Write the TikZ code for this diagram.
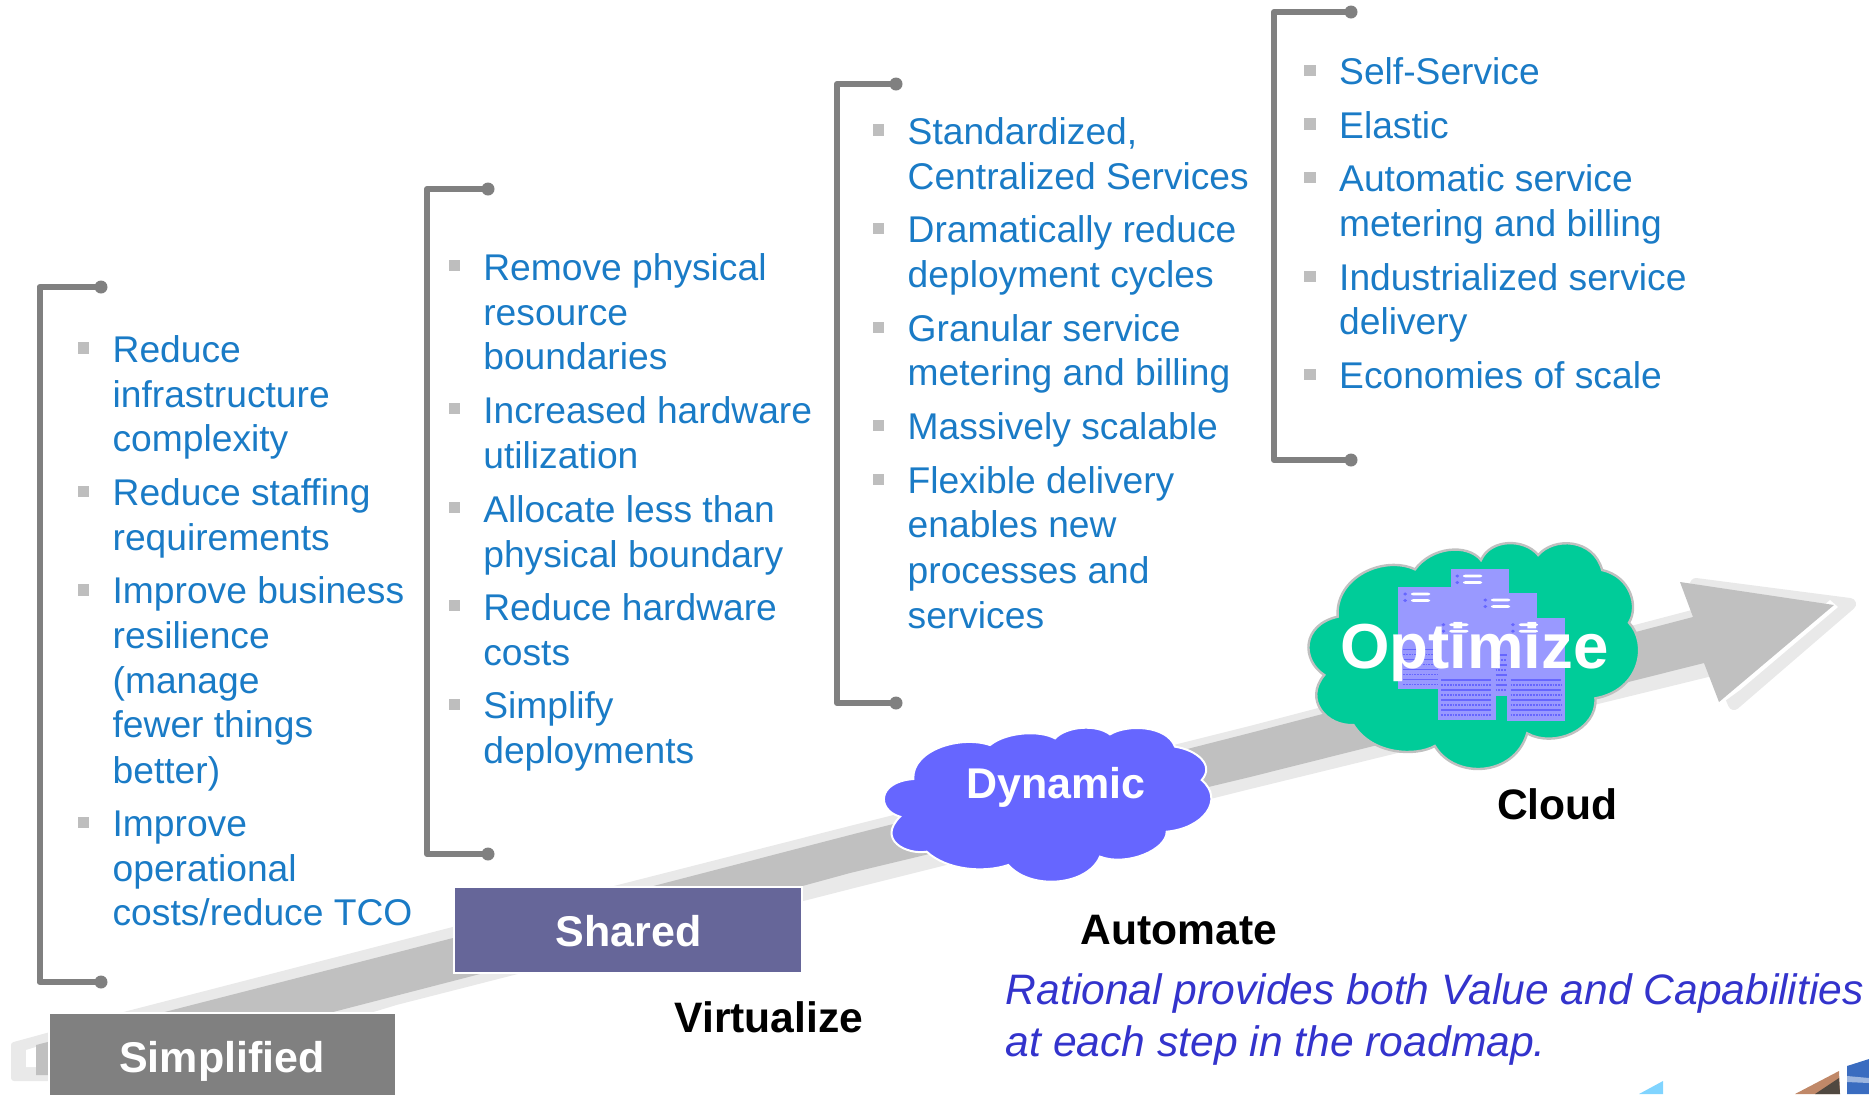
\documentclass[tikz,border=0pt]{standalone}
\usepackage{fontspec}
\setmainfont{Liberation Sans}
\definecolor{txtblue}{HTML}{1A7BC6}
\definecolor{bulletgray}{HTML}{BEBEBE}
\definecolor{brk}{HTML}{808080}
\definecolor{arrgray}{HTML}{C0C0C0}
\definecolor{arrlight}{HTML}{E9E9E9}
\definecolor{simp}{HTML}{808080}
\definecolor{shar}{HTML}{666699}
\definecolor{dyn}{HTML}{6666FF}
\definecolor{opt}{HTML}{00CC99}
\definecolor{srv}{HTML}{9999FF}
\definecolor{rat}{HTML}{3333CC}
\definecolor{fragcyan}{HTML}{80D4FF}
\definecolor{fragbrown}{HTML}{C08868}
\definecolor{fragdark}{HTML}{504840}
\definecolor{fragblue}{HTML}{3A6CC0}
\tikzset{
  item/.style={anchor=base west,inner sep=0pt,outer sep=0pt,text=txtblue,font=\fontsize{18.6pt}{22pt}\selectfont},
  sq/.style={rectangle,fill=bulletgray,inner sep=0pt,outer sep=0pt,minimum size=5.6pt},
  blk/.style={anchor=center,inner sep=0pt,text=black,font=\fontsize{21.3pt}{25pt}\selectfont\bfseries},
  wht/.style={anchor=center,inner sep=0pt,text=white,font=\fontsize{21.5pt}{25pt}\selectfont\bfseries},
  ital/.style={anchor=base west,inner sep=0pt,text=rat,font=\fontsize{21.3pt}{25pt}\selectfont\itshape},
  brack/.style={draw=brk,line width=3pt,line join=round},
  srvline/.style={draw=dyn,line width=0.7pt},
  srvdot/.style={draw=dyn,line width=0.7pt,dash pattern=on 0.9pt off 0.5pt},
}
\newcommand{\brk}[4]{% x ytop ybot xdot
  \draw[brack] (#4,#2) -- (#1,#2) -- (#1,#3) -- (#4,#3);
  \fill[brk] (#4,#2) circle (6.5);
  \fill[brk] (#4,#3) circle (6.5);
}
\newcommand{\srvtop}[2]{% x y of dots, bars
  \fill[dyn] (#1,#2) circle (5);
  \fill[dyn] (#1,#2+19.5) circle (5);
  \fill[white,rounded corners=1pt] (#1+15,#2-4) rectangle (#1+63,#2+4);
  \fill[white,rounded corners=1pt] (#1+15,#2+15.5) rectangle (#1+63,#2+23.5);
}
\newcommand{\srvlines}[4]{% x1 x2 y1 count
  \foreach \k in {0,...,#4}{
    \pgfmathsetmacro{\yy}{#3+\k*15}
    \ifodd\k\relax\draw[srvdot] (#1,\yy) -- (#2,\yy);\else\draw[srvline] (#1,\yy) -- (#2,\yy);\fi
  }
}
\begin{document}
\begin{tikzpicture}[x=0.5pt,y=-0.5pt]
\useasboundingbox (0,0) rectangle (1869,1094);
% arrow ribbon
\filldraw[arrlight,line width=3pt,line join=round]
  (14,1045) -- (120,1016) -- (453,930) -- (850,829) -- (1250,729) -- (1696,612)
  -- (1708,674)
  -- (1250,786) -- (850,886) -- (396,1002) -- (145,1078) -- (14,1078) -- cycle;
\filldraw[arrlight,line width=6pt,line join=round]
  (1702,612) -- (1696,584) -- (1850,604) -- (1734,704) -- (1728,690) -- cycle;
\fill[white] (26,1050) -- (36,1047) -- (36,1067) -- (26,1067) -- cycle;
\fill[white] (1838,607) -- (1740,690) -- (1722,703) -- (1715,700) -- (1830,600) -- cycle;
\fill[arrgray] (36,1045) -- (453,938) -- (850,835) -- (1250,733) -- (1693,617)
  -- (1680,582) -- (1834,605) -- (1719,702) -- (1704,663)
  -- (1250,777) -- (850,873) -- (480,974) -- (333,1012) -- (60,1075) -- (36,1075) -- cycle;
% boxes
\fill[simp,draw=white,line width=0.8pt] (49,1013) rectangle (396,1100);
\node[wht] (simplified) at (222,1061) {Simplified};
\fill[shar,draw=white,line width=0.8pt] (454,887) rectangle (802,973);
\node[wht] (shared) at (628.5,931) {Shared};
% Dynamic cloud
\begin{scope}[shift={(850,700)},x=0.16667pt,y=-0.16667pt]
\filldraw[fill=dyn,draw=white,line width=1pt]
 (190,237) .. controls (185,150) and (330,105) .. (420,135)
 .. controls (470,95) and (570,90) .. (615,115)
 .. controls (650,78) and (740,72) .. (780,103)
 .. controls (830,72) and (950,75) .. (975,140)
 .. controls (1040,150) and (1095,195) .. (1055,240)
 .. controls (1125,300) and (1060,385) .. (950,395)
 .. controls (950,450) and (830,500) .. (750,470)
 .. controls (710,560) and (540,570) .. (475,495)
 .. controls (400,520) and (290,510) .. (230,455)
 .. controls (170,465) and (80,420) .. (150,350)
 .. controls (80,330) and (80,245) .. (190,237) -- cycle;
\end{scope}
\node[wht] (dynamic) at (1056,787) {Dynamic};
% Optimize cloud
\begin{scope}[shift={(1250,500)},x=0.19739pt,y=-0.16667pt]
\filldraw[fill=opt,draw=arrgray,line width=1.2pt]
 (222,350) .. controls (215,230) and (340,165) .. (418,208)
 .. controls (460,140) and (550,130) .. (585,180)
 .. controls (610,115) and (695,115) .. (730,165)
 .. controls (770,110) and (870,115) .. (892,210)
 .. controls (965,230) and (985,320) .. (960,368)
 .. controls (1010,430) and (990,570) .. (875,595)
 .. controls (880,690) and (770,745) .. (702,700)
 .. controls (670,830) and (520,840) .. (468,738)
 .. controls (420,770) and (310,765) .. (262,675)
 .. controls (195,680) and (135,600) .. (188,525)
 .. controls (130,480) and (130,375) .. (222,350) -- cycle;
\fill[srv] (510,208) rectangle (656,300);
\fill[srv] (376,261) rectangle (520,568);
\fill[srv] (510,261) rectangle (600,360);
\fill[srv] (585,280) rectangle (727,588);
\fill[srv] (475,354) rectangle (622,660);
\fill[srv] (652,354) rectangle (798,662);
\srvtop{525}{228}
\srvtop{393}{282}
\srvtop{596}{300}
\srvtop{490}{374}
\srvtop{666}{374}
\srvlines{388}{475}{448}{7}
\srvlines{622}{650}{465}{7}
\srvlines{485}{610}{540}{7}
\srvlines{660}{788}{540}{7}
\end{scope}
\node[wht,font=\fontsize{31.8pt}{36pt}\selectfont\bfseries,anchor=base] (optimize) at (1474.5,668) {Optimize};
% brackets
\brk{39.5}{287}{982}{101}
\brk{427}{189}{854}{488}
\brk{837}{84}{703}{896}
\brk{1274}{12}{460}{1351}
% text, in coordinates of 1568-wide picture
\begin{scope}[x=0.596pt,y=-0.596pt]
\newcommand{\bl}[2]{\node[sq] at (#1,#2) {};}
\bl{70}{292}\bl{70}{412}\bl{70}{495}\bl{70}{690}
\node[item] (a1) at (94.5,304) {Reduce};
\node[item] (a2) at (94.5,342) {infrastructure};
\node[item] (a3) at (94.5,379) {complexity};
\node[item] (a4) at (94.5,424) {Reduce staffing};
\node[item] (a5) at (94.5,462) {requirements};
\node[item] (a6) at (94.5,506) {Improve business};
\node[item] (a7) at (94.5,544) {resilience};
\node[item] (a8) at (94.5,582) {(manage};
\node[item] (a9) at (94.5,619) {fewer things};
\node[item] (a10) at (94.5,657) {better)};
\node[item] (a11) at (94.5,702) {Improve};
\node[item] (a12) at (94.5,739.5) {operational};
\node[item] (a13) at (94.5,776.5) {costs/reduce TCO};
\bl{381}{223}\bl{381}{343}\bl{381}{426}\bl{381}{508}\bl{381}{591}
\node[item] (c1) at (405.5,235) {Remove physical};
\node[item] (c2) at (405.5,273) {resource};
\node[item] (c3) at (405.5,310) {boundaries};
\node[item] (c4) at (405.5,355) {Increased hardware};
\node[item] (c5) at (405.5,393) {utilization};
\node[item] (c6) at (405.5,438) {Allocate less than};
\node[item] (c7) at (405.5,476) {physical boundary};
\node[item] (c8) at (405.5,520.5) {Reduce hardware};
\node[item] (c9) at (405.5,558) {costs};
\node[item] (c10) at (405.5,603) {Simplify};
\node[item] (c11) at (405.5,640.5) {deployments};
\bl{737}{109}\bl{737}{192}\bl{737}{275}\bl{737}{357}\bl{737}{402}
\node[item] (d1) at (761.5,121) {Standardized,};
\node[item] (d2) at (761.5,159) {Centralized Services};
\node[item] (d3) at (761.5,203.5) {Dramatically reduce};
\node[item] (d4) at (761.5,241) {deployment cycles};
\node[item] (d5) at (761.5,286.5) {Granular service};
\node[item] (d6) at (761.5,323.5) {metering and billing};
\node[item] (d7) at (761.5,369) {Massively scalable};
\node[item] (d8) at (761.5,414) {Flexible delivery};
\node[item] (d9) at (761.5,451) {enables new};
\node[item] (d10) at (761.5,489.5) {processes and};
\node[item] (d11) at (761.5,527) {services};
\bl{1099}{59}\bl{1099}{104}\bl{1099}{149}\bl{1099}{232}\bl{1099}{314}
\node[item] (e1) at (1123.5,71) {Self-Service};
\node[item] (e2) at (1123.5,116) {Elastic};
\node[item] (e3) at (1123.5,161) {Automatic service};
\node[item] (e4) at (1123.5,198) {metering and billing};
\node[item] (e5) at (1123.5,244) {Industrialized service};
\node[item] (e6) at (1123.5,281) {delivery};
\node[item] (e7) at (1123.5,326) {Economies of scale};
\node[blk] (cloud) at (1306.5,675) {Cloud};
\node[blk] (automate) at (989,780) {Automate};
\node[blk] (virtualize) at (645,853.5) {Virtualize};
\node[ital] (r1) at (843.5,843) {Rational provides both Value and Capabilities};
\node[ital] (r2) at (843.5,886) {at each step in the roadmap.};
\end{scope}
% corner fragments
\fill[fragcyan] (1639,1094) -- (1663,1081) -- (1663,1094) -- cycle;
\fill[fragbrown] (1795,1094) -- (1839,1071) -- (1840,1094) -- cycle;
\fill[fragdark] (1815,1094) -- (1839,1078) -- (1840,1094) -- cycle;
\fill[fragblue] (1847,1066) -- (1869,1059) -- (1869,1094) -- (1847,1094) -- cycle;
\fill[white,opacity=0.5] (1847,1076) -- (1869,1078) -- (1869,1083) -- (1847,1082) -- cycle;
\end{tikzpicture}
\end{document}
